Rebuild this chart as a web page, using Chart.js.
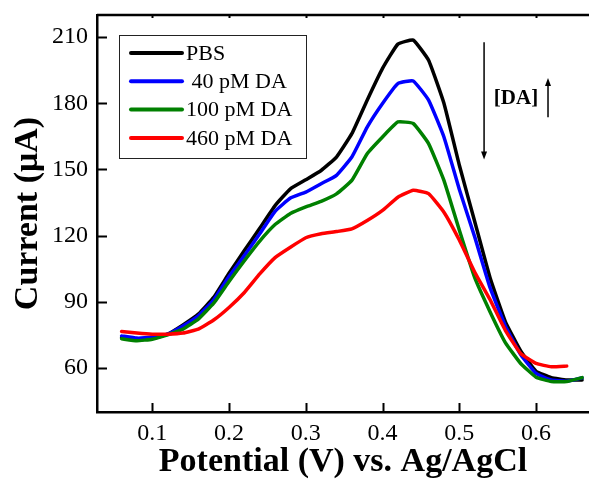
<!DOCTYPE html>
<html>
<head>
<meta charset="utf-8">
<script src="https://cdn.jsdelivr.net/npm/chart.js@4/dist/chart.umd.min.js"></script>
<style>
  html, body { margin: 0; padding: 0; background: #fff; }
  #wrap { width: 589px; height: 479px; }
</style>
</head>
<body>
<div id="wrap"><canvas id="dpv" width="589" height="479"></canvas></div>
<script>
// DPV scans, potential in V vs Ag/AgCl, current in uA
const potential = [0.06, 0.08, 0.10, 0.12, 0.14, 0.16, 0.18, 0.20, 0.22, 0.24, 0.26,
  0.28, 0.30, 0.32, 0.34, 0.36, 0.38, 0.40, 0.42, 0.44, 0.46, 0.48, 0.50, 0.52,
  0.54, 0.56, 0.58, 0.60, 0.62, 0.64, 0.66];

const pbs = [73.8, 72.8, 73.3, 75.3, 79.5, 84.4, 92.0, 102.9, 113.2, 123.3, 133.6,
  141.2, 145.3, 149.5, 155.6, 166.2, 181.4, 195.8, 206.8, 208.6, 199.5, 180.0, 152.0,
  126.5, 101.0, 81.0, 67.7, 58.5, 55.6, 54.5, 54.5];

const da40 = [74.5, 73.5, 74.0, 75.3, 79.0, 83.6, 90.8, 101.4, 110.9, 120.8, 131.0,
  137.0, 139.7, 143.5, 147.3, 155.6, 169.2, 179.9, 188.9, 190.1, 181.4, 164.7, 141.0,
  119.5, 96.5, 79.0, 66.0, 57.5, 54.5, 54.0, 55.5];

const da100 = [73.2, 72.3, 73.0, 75.0, 77.6, 82.1, 89.3, 99.2, 108.6, 117.5, 125.0,
  130.0, 133.0, 135.5, 138.9, 145.0, 157.1, 164.7, 171.5, 170.8, 161.7, 145.0, 122.5,
  101.0, 85.5, 71.5, 62.0, 55.8, 53.8, 53.8, 55.6];

// last scan stops at 0.64 V
const da460 = [76.5, 75.8, 75.3, 75.3, 75.8, 77.6, 81.7, 87.4, 94.2, 102.6, 110.0,
  114.7, 119.0, 120.8, 121.8, 123.0, 126.8, 131.4, 137.4, 140.5, 139.0, 130.6, 118.0,
  103.5, 91.0, 77.0, 66.5, 62.0, 60.5, 60.8];

const seriesNames = ["PBS", " 40 pM DA", "100 pM DA", "460 pM DA"];
const seriesColors = ["#000000", "#0000ff", "#008000", "#ff0000"];
const xTicks = [0.1, 0.2, 0.3, 0.4, 0.5, 0.6];
const yTicks = [60, 90, 120, 150, 180, 210];

const SERIF = "'Liberation Serif', 'Times New Roman', serif";

function toPoints(ys) {
  return ys.map((v, i) => ({ x: potential[i], y: v }));
}

const allSeries = [pbs, da40, da100, da460];

const datasets = allSeries.map((ys, i) => ({
  label: seriesNames[i],
  data: toPoints(ys),
  borderColor: seriesColors[i],
  backgroundColor: seriesColors[i],
  borderWidth: 3.5,
  pointRadius: 0,
  tension: 0.12,
  borderJoinStyle: "round",
  borderCapStyle: "round",
  order: allSeries.length - i   // later scans on top
}));

// frame: top border, inward ticks, legend box and the [DA] arrows
const framePlugin = {
  id: "frame",
  afterDraw(chart) {
    const { ctx, chartArea: a } = chart;
    const xs = chart.scales.x, ys = chart.scales.y;
    ctx.save();
    ctx.strokeStyle = "#000";

    ctx.lineWidth = 2.5;
    ctx.beginPath();
    ctx.moveTo(a.left, a.top);
    ctx.lineTo(a.right, a.top);
    ctx.stroke();

    ctx.lineWidth = 2;
    ctx.beginPath();
    xTicks.forEach(v => {
      const px = Math.round(xs.getPixelForValue(v)) + 0.5;
      ctx.moveTo(px, a.bottom);
      ctx.lineTo(px, a.bottom - 9);
      ctx.moveTo(px, a.top);
      ctx.lineTo(px, a.top + 3);
    });
    yTicks.forEach(v => {
      const py = Math.round(ys.getPixelForValue(v)) + 0.5;
      ctx.moveTo(a.left, py);
      ctx.lineTo(a.left + 10, py);
    });
    ctx.stroke();

    // legend
    const lx = 119.5, ly = 35.5, lw = 187, lh = 123;
    ctx.fillStyle = "#fff";
    ctx.fillRect(lx, ly, lw, lh);
    ctx.lineWidth = 1;
    ctx.strokeStyle = "#222";
    ctx.strokeRect(lx, ly, lw, lh);
    ctx.font = "22px " + SERIF;
    ctx.textBaseline = "middle";
    ctx.textAlign = "left";
    seriesNames.forEach((name, i) => {
      const rowY = 53 + i * 28.3;
      ctx.strokeStyle = seriesColors[i];
      ctx.lineWidth = 4;
      ctx.lineCap = "round";
      ctx.beginPath();
      ctx.moveTo(131, rowY);
      ctx.lineTo(182, rowY);
      ctx.stroke();
      ctx.fillStyle = "#000";
      ctx.fillText(name, 186, rowY + 1);
    });

    // concentration arrows
    ctx.strokeStyle = "#000";
    ctx.fillStyle = "#000";
    ctx.lineCap = "butt";
    ctx.lineWidth = 1.5;
    const arrow = (xv, y0, y1) => {
      const px = xs.getPixelForValue(xv);
      const p0 = ys.getPixelForValue(y0), p1 = ys.getPixelForValue(y1);
      const dir = Math.sign(p1 - p0);
      ctx.beginPath();
      ctx.moveTo(px, p0);
      ctx.lineTo(px, p1 - dir * 6);
      ctx.stroke();
      ctx.beginPath();
      ctx.moveTo(px, p1);
      ctx.lineTo(px - 3, p1 - dir * 8);
      ctx.lineTo(px + 3, p1 - dir * 8);
      ctx.closePath();
      ctx.fill();
    };
    arrow(0.5323, 207.7, 154.5);
    arrow(0.6156, 173.6, 191.4);
    ctx.font = "bold 21px " + SERIF;
    ctx.textAlign = "left";
    ctx.fillText("[DA]", xs.getPixelForValue(0.545), ys.getPixelForValue(182.3));
    ctx.restore();
  }
};

new Chart(document.getElementById("dpv"), {
  type: "line",
  data: { datasets },
  options: {
    responsive: false,
    animation: false,
    layout: { padding: { top: 15, right: 0, left: 0, bottom: 0 } },
    plugins: { legend: { display: false }, tooltip: { enabled: false } },
    scales: {
      x: {
        type: "linear",
        min: 0.028,
        max: 0.669,
        afterBuildTicks: s => { s.ticks = xTicks.map(v => ({ value: v })); },
        afterFit: s => { s.height = 67; s.paddingLeft = 0; s.paddingRight = 0; },
        grid: { display: false, drawTicks: false },
        border: { display: true, color: "#000", width: 2.5 },
        ticks: {
          color: "#000",
          font: { family: SERIF, size: 24 },
          padding: 7,
          maxRotation: 0,
          callback: v => Number(v).toFixed(1)
        },
        title: {
          display: true,
          text: "Potential (V) vs. Ag/AgCl",
          color: "#000",
          font: { family: SERIF, size: 34, weight: "bold", lineHeight: 1 },
          padding: { top: 0, bottom: 0 }
        }
      },
      y: {
        min: 40,
        max: 220,
        afterBuildTicks: s => { s.ticks = yTicks.map(v => ({ value: v })); },
        afterFit: s => { s.width = 97; s.paddingTop = 0; s.paddingBottom = 0; },
        grid: { display: false, drawTicks: false },
        border: { display: true, color: "#000", width: 2.5 },
        ticks: {
          color: "#000",
          font: { family: SERIF, size: 24 },
          padding: 9
        },
        title: {
          display: true,
          text: "Current (μA)",
          color: "#000",
          font: { family: SERIF, size: 34, weight: "bold", lineHeight: 1 },
          padding: { top: 11, bottom: 0 }
        }
      }
    }
  },
  plugins: [framePlugin]
});
</script>
</body>
</html>
